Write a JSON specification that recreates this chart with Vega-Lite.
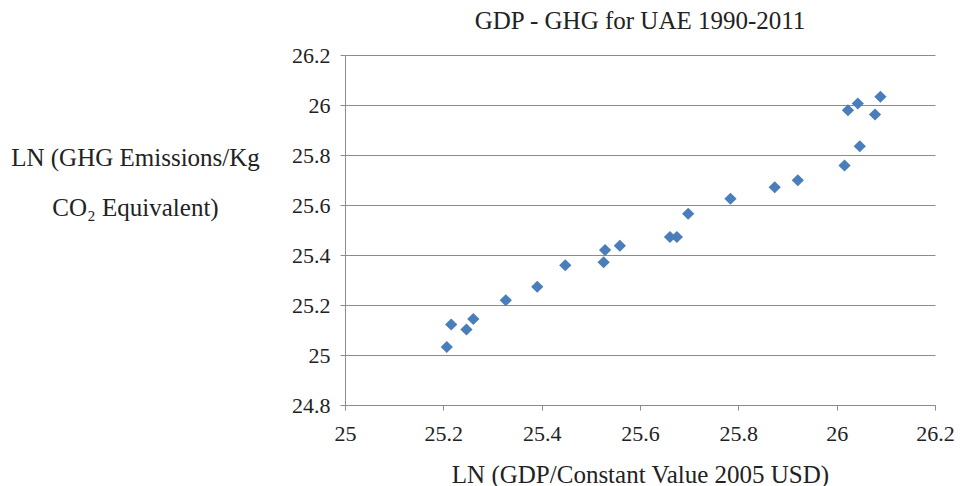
{
  "$schema": "https://vega.github.io/schema/vega-lite/v6.json",
  "width": 590,
  "height": 350,
  "autosize": "none",
  "padding": {"left": 345, "top": 55, "right": 26, "bottom": 81},
  "background": "white",
  "title": {
    "text": "GDP - GHG for UAE 1990-2011",
    "font": "Liberation Serif",
    "fontSize": 25,
    "fontWeight": "normal",
    "color": "#222222",
    "anchor": "middle",
    "baseline": "bottom",
    "offset": -15
  },
  "config": {
    "view": {"stroke": null},
    "axis": {
      "labelFont": "Liberation Serif",
      "labelFontSize": 22,
      "labelColor": "#222222",
      "titleFont": "Liberation Serif",
      "titleFontSize": 25,
      "titleFontWeight": "normal",
      "titleColor": "#222222",
      "domainColor": "#8c8c8c",
      "tickColor": "#8c8c8c",
      "gridColor": "#8c8c8c",
      "gridWidth": 1.2
    }
  },
  "data": {
    "values": [
      {"gdp": 25.207, "ghg": 25.032},
      {"gdp": 25.216, "ghg": 25.122},
      {"gdp": 25.247, "ghg": 25.102},
      {"gdp": 25.261, "ghg": 25.144},
      {"gdp": 25.327, "ghg": 25.219},
      {"gdp": 25.391, "ghg": 25.273},
      {"gdp": 25.448, "ghg": 25.359},
      {"gdp": 25.526, "ghg": 25.371},
      {"gdp": 25.529, "ghg": 25.420},
      {"gdp": 25.559, "ghg": 25.437},
      {"gdp": 25.661, "ghg": 25.472},
      {"gdp": 25.675, "ghg": 25.472},
      {"gdp": 25.698, "ghg": 25.565},
      {"gdp": 25.784, "ghg": 25.625},
      {"gdp": 25.874, "ghg": 25.671},
      {"gdp": 25.921, "ghg": 25.699},
      {"gdp": 26.016, "ghg": 25.758},
      {"gdp": 26.047, "ghg": 25.835},
      {"gdp": 26.023, "ghg": 25.979},
      {"gdp": 26.043, "ghg": 26.006},
      {"gdp": 26.078, "ghg": 25.962},
      {"gdp": 26.089, "ghg": 26.033}
    ]
  },
  "mark": {"type": "point", "shape": "diamond", "filled": true, "size": 150, "color": "#4a7ebb", "opacity": 1},
  "encoding": {
    "x": {
      "field": "gdp",
      "type": "quantitative",
      "scale": {"domain": [25, 26.2], "nice": false, "zero": false},
      "axis": {
        "values": [25, 25.2, 25.4, 25.6, 25.8, 26, 26.2],
        "format": "~g",
        "grid": false,
        "tickSize": 5,
        "labelPadding": 13,
        "labelFont": "Liberation Serif",
        "labelFontSize": 22,
        "title": "LN (GDP/Constant Value 2005 USD)",
        "titleFont": "Liberation Serif",
        "titleFontSize": 25,
        "titleBaseline": "alphabetic",
        "titleY": 77,
        "labelFlush": false
      }
    },
    "y": {
      "field": "ghg",
      "type": "quantitative",
      "scale": {"domain": [24.8, 26.2], "nice": false, "zero": false},
      "axis": {
        "values": [24.8, 25, 25.2, 25.4, 25.6, 25.8, 26, 26.2],
        "format": "~g",
        "grid": true,
        "tickSize": 5,
        "labelPadding": 10,
        "labelFont": "Liberation Serif",
        "labelFontSize": 22,
        "title": ["LN (GHG Emissions/Kg", "CO₂ Equivalent)"],
        "titleFont": "Liberation Serif",
        "titleFontSize": 25,
        "titleAngle": 0,
        "titleAlign": "center",
        "titleBaseline": "middle",
        "titleX": -210,
        "titleY": 102,
        "titleLineHeight": 50,
        "labelFlush": false
      }
    }
  }
}
